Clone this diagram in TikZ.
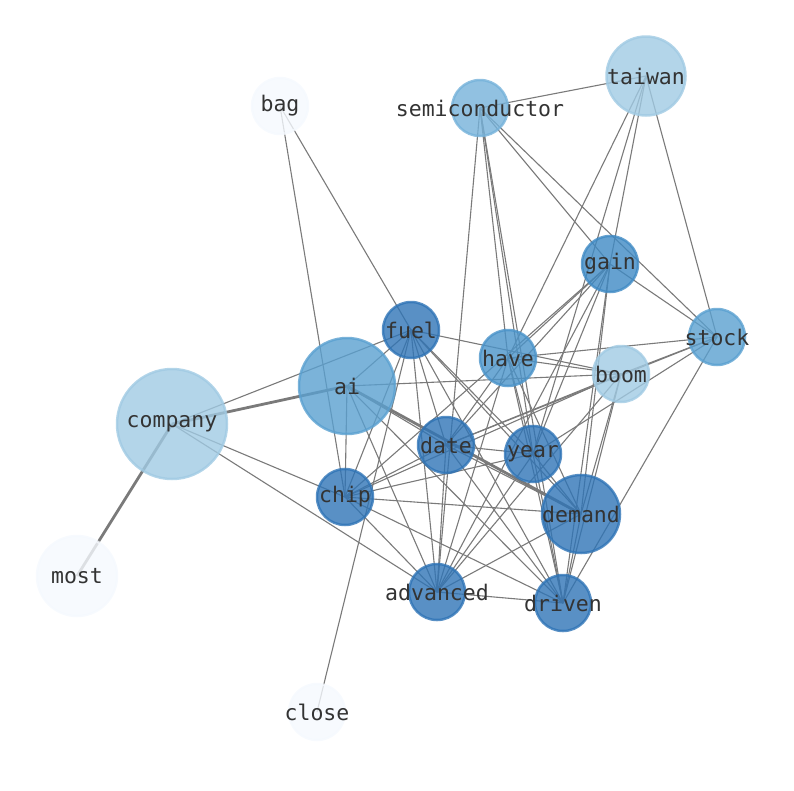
\documentclass[tikz,border=0pt]{standalone}
\usepackage{fontspec}
\setmonofont{DejaVu Sans Mono}
\pgfdeclarelayer{edges}
\pgfsetlayers{edges,main}
\definecolor{cA}{HTML}{2F74B6}
\definecolor{cB}{HTML}{3F8AC4}
\definecolor{cC}{HTML}{4A93C9}
\definecolor{cD}{HTML}{5AA0D0}
\definecolor{cE}{HTML}{75B2DA}
\definecolor{cF}{HTML}{A0CAE3}
\definecolor{cG}{HTML}{F5F9FE}
\definecolor{edgegray}{HTML}{7A7A7A}
\definecolor{labelgray}{HTML}{333333}
\newcommand{\wlabel}[1]{\makebox[0pt]{#1}}
\tikzset{
  word/.style={circle, inner sep=0pt, minimum size=#1, line width=2.5pt,
    fill opacity=0.8, draw opacity=0.8, text opacity=1, text=labelgray,
    font=\fontsize{21.5}{24}\selectfont\ttfamily},
  wA/.style={word=#1, draw=cA, fill=cA},
  wB/.style={word=#1, draw=cB, fill=cB},
  wC/.style={word=#1, draw=cC, fill=cC},
  wD/.style={word=#1, draw=cD, fill=cD},
  wE/.style={word=#1, draw=cE, fill=cE},
  wF/.style={word=#1, draw=cF, fill=cF},
  wG/.style={word=#1, draw=cG, fill=cG},
  link/.style={draw=edgegray, line width=1.1pt},
  heavy/.style={draw=edgegray, line width=2.8pt}
}
\begin{document}
\begin{tikzpicture}[x=1pt,y=-1pt]
\useasboundingbox (0,0) rectangle (794,790);
% nodes
\node[wG=56pt] (bag) at (280,106) {\wlabel{bag}};
\node[wE=56pt] (semi) at (480,108) {\wlabel{semiconductor}};
\node[wF=79pt] (taiwan) at (646,76) {\wlabel{taiwan}};
\node[wB=56pt] (gain) at (610,264) {\wlabel{gain}};
\node[wD=56pt] (stock) at (717,337) {\wlabel{stock}};
\node[wA=56pt] (fuel) at (411,330) {\wlabel{fuel}};
\node[wC=56pt] (have) at (508,358) {\wlabel{have}};
\node[wF=56pt] (boom) at (621,374) {\wlabel{boom}};
\node[wD=96pt] (ai) at (347,386) {\wlabel{ai}};
\node[wF=110pt] (company) at (172,424) {\wlabel{company}};
\node[wA=56pt] (date) at (446,445) {\wlabel{date}};
\node[wA=56pt] (year) at (533,454) {\wlabel{year}};
\node[wA=56pt] (chip) at (345,497) {\wlabel{chip}};
\node[wA=78pt] (demand) at (581,514) {\wlabel{demand}};
\node[wG=80pt] (most) at (77,576) {\wlabel{most}};
\node[wA=56pt] (advanced) at (437,592) {\wlabel{advanced}};
\node[wA=56pt] (driven) at (563,603) {\wlabel{driven}};
\node[wG=56pt] (close) at (317,712) {\wlabel{close}};
% edges
\begin{pgfonlayer}{edges}
\foreach \a/\b in {
  bag/fuel, bag/chip,
  semi/taiwan, semi/gain, semi/stock, semi/have, semi/year, semi/driven, semi/advanced,
  taiwan/have, taiwan/year, taiwan/gain, taiwan/stock,
  gain/stock, gain/have, gain/date, gain/advanced, gain/chip, gain/demand, gain/driven, gain/year,
  stock/have, stock/boom, stock/date, stock/year, stock/driven,
  fuel/company, fuel/ai, fuel/chip, fuel/close, fuel/advanced, fuel/date, fuel/year, fuel/demand, fuel/driven, fuel/boom,
  have/boom, have/date, have/year, have/demand, have/driven, have/advanced,
  boom/ai, boom/date, boom/chip, boom/demand, boom/driven, boom/advanced,
  ai/chip, ai/advanced, ai/driven, ai/date,
  company/chip, company/advanced,
  date/year, date/demand, date/advanced, date/driven, date/chip,
  year/chip, year/demand, year/driven, year/advanced,
  chip/demand, chip/advanced, chip/driven,
  demand/advanced, demand/driven, advanced/driven}
  {\draw[link] (\a.center) -- (\b.center);}
\draw[heavy] (company.center) -- (ai.center);
\draw[heavy] (company.center) -- (most.center);
\draw[heavy] (ai.center) -- (demand.center);
\end{pgfonlayer}
\end{tikzpicture}
\end{document}
